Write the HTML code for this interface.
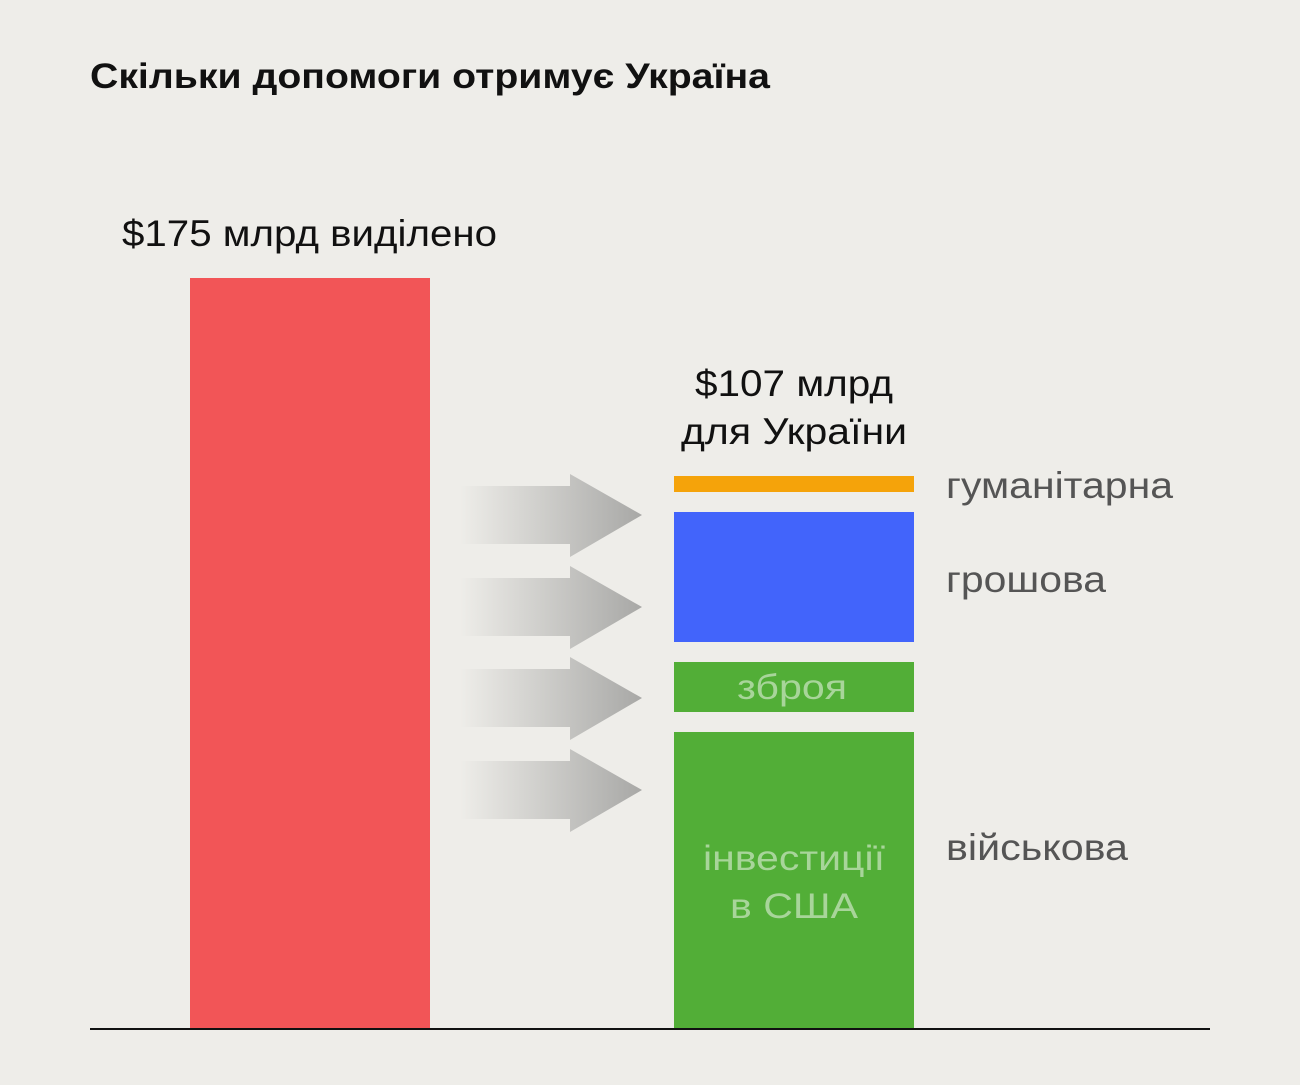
<!DOCTYPE html>
<html><head><meta charset="utf-8"><style>
body{margin:0;width:1300px;height:1080px;background:#eeede9;font-family:"Liberation Sans","Noto Sans CJK SC",sans-serif;overflow:hidden}
</style></head><body>
<svg width="1300" height="1080" xmlns="http://www.w3.org/2000/svg">
<defs><linearGradient id="g" x1="460" x2="642" gradientUnits="userSpaceOnUse">
<stop offset="0" stop-color="#eeede9"/><stop offset="1" stop-color="#a8a8a6"/></linearGradient></defs>
<text x="90" y="88" font-size="35" font-weight="bold" fill="#111" textLength="680" lengthAdjust="spacingAndGlyphs">Скільки допомоги отримує Україна</text>
<text x="122" y="246" font-size="37" fill="#111" textLength="375" lengthAdjust="spacingAndGlyphs">$175 млрд виділено</text>
<rect x="190" y="278" width="240" height="751" fill="#f25557"/>
<text x="695" y="396" font-size="37" fill="#111" textLength="198" lengthAdjust="spacingAndGlyphs">$107 млрд</text>
<text x="681" y="444" font-size="37" fill="#111" textLength="226" lengthAdjust="spacingAndGlyphs">для України</text>
<g fill="url(#g)">
<path d="M460 486H570V474L642 515L570 557V544H460Z"/>
<path d="M460 578H570V566L642 607L570 649V636H460Z"/>
<path d="M460 669H570V657L642 698L570 740V727H460Z"/>
<path d="M460 761H570V749L642 790L570 832V819H460Z"/>
</g>
<rect x="674" y="476" width="240" height="16" fill="#f5a30a"/>
<rect x="674" y="512" width="240" height="130" fill="#4264fb"/>
<rect x="674" y="662" width="240" height="50" fill="#52ae37"/>
<rect x="674" y="732" width="240" height="297" fill="#52ae37"/>
<g font-size="35" fill="#a8d59a">
<text x="737" y="699" textLength="110" lengthAdjust="spacingAndGlyphs">зброя</text>
<text x="703" y="870" textLength="182" lengthAdjust="spacingAndGlyphs">інвестиції</text>
<text x="730" y="918" textLength="128" lengthAdjust="spacingAndGlyphs">в США</text>
</g>
<g font-size="37" fill="#555">
<text x="946" y="498" textLength="227" lengthAdjust="spacingAndGlyphs">гуманітарна</text>
<text x="946" y="592" textLength="160" lengthAdjust="spacingAndGlyphs">грошова</text>
<text x="946" y="860" textLength="182" lengthAdjust="spacingAndGlyphs">військова</text>
</g>
<rect x="90" y="1028" width="1120" height="2" fill="#111"/>
</svg>
</body></html>
